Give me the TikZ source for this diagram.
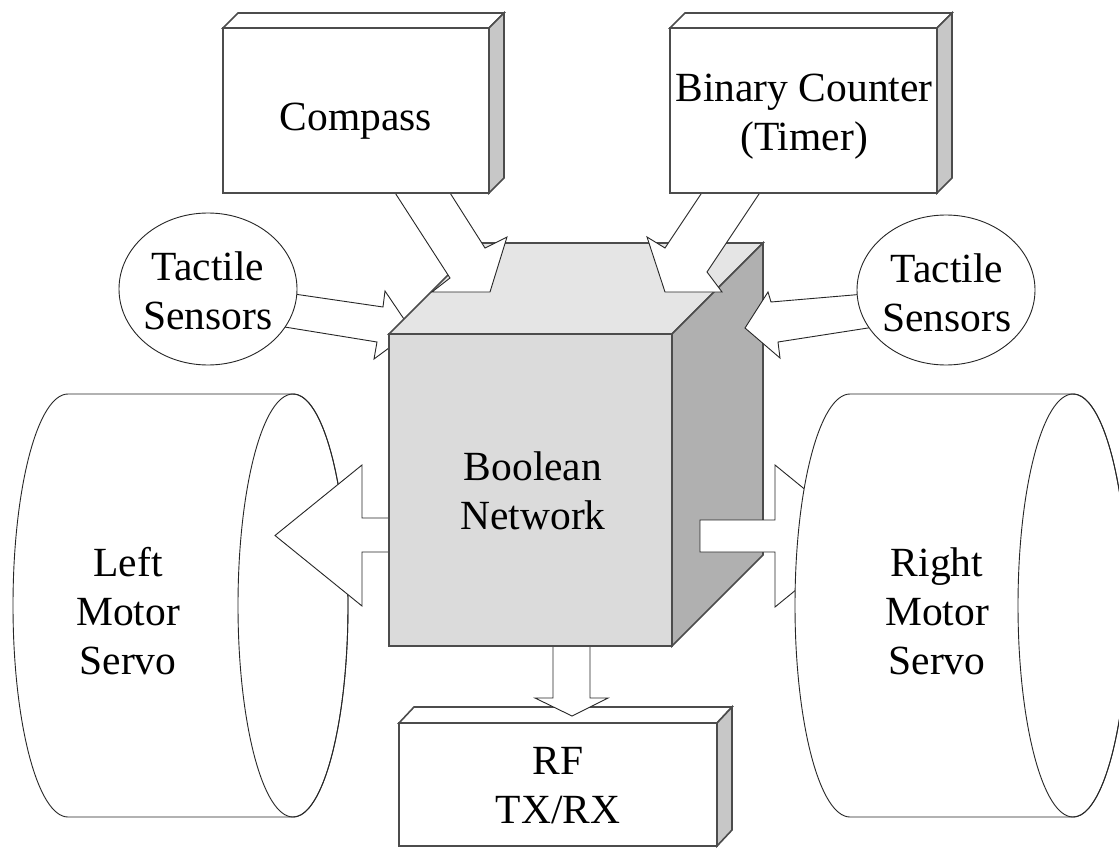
\documentclass[tikz,border=0pt]{standalone}
\usepackage{fontspec}
\setmainfont{Liberation Serif}
\begin{document}
\begin{tikzpicture}[x=1pt,y=-1pt,
  edge/.style={draw=black!70,line width=1.6pt,line join=miter},
  thin/.style={draw=black!85,line width=0.9pt,line join=miter},
  blockarrow/.style={thin,fill=white},
  lbl/.style={font=\fontsize{41.5}{49}\selectfont,align=center,inner sep=0pt},
  frontbox/.style={edge,fill=white},
  sidebox/.style={edge,fill=black!22},
]
\useasboundingbox (0,0) rectangle (1119,848);
\clip (0,0) rectangle (1119,848);
\fill[white] (0,0) rectangle (1119,848);

% ---------- Left motor cylinder ----------
\draw[thin,fill=white] (68,394) -- (293,394) arc[start angle=-90,end angle=90,x radius=55,y radius=211.5]
   -- (68,817) arc[start angle=90,end angle=270,x radius=55,y radius=211.5] -- cycle;
\draw[thin] (293,605.5) ellipse[x radius=55,y radius=211.5];
\node[lbl] (leftmotor) at (128,611) {Left\\Motor\\Servo};

% ---------- Left tactile arrow and ellipse ----------
\draw[blockarrow] (260,289) -- (383,307) -- (385,291) -- (412,331) -- (374,359) -- (377,342) -- (260,323) -- cycle;
\draw[thin,fill=white] (208,289) ellipse[x radius=89,y radius=76];
\node[lbl] (tactL) at (208,291) {Tactile\\Sensors};

% ---------- Left motor arrow ----------
\draw[blockarrow] (395,518) -- (362,518) -- (362,465) -- (275,535.5) -- (362,606) -- (362,552) -- (395,552) -- cycle;

% ---------- RF box and down arrow ----------
\draw[frontbox] (399,723) -- (414,707) -- (732,707) -- (717,723) -- cycle;
\draw[sidebox] (717,723) -- (732,707) -- (732,830) -- (717,846) -- cycle;
\draw[frontbox] (399,723) rectangle (717,846);
\node[lbl] (rf) at (558,786) {RF\\TX/RX};
\draw[blockarrow] (553,640) -- (553,698) -- (535,698) -- (572,716) -- (608,698) -- (590,698) -- (590,640) -- cycle;

% ---------- Cube ----------
\draw[edge,fill=black!10] (389,334) -- (480,243) -- (763,243) -- (672,334) -- cycle;
\draw[edge,fill=black!31] (672,334) -- (763,243) -- (763,555) -- (672,646) -- cycle;
\draw[edge,fill=black!14] (389,334) rectangle (672,646);
\node[lbl] (bool) at (533,491) {Boolean\\Network};

% ---------- Right motor arrow and cylinder ----------
\draw[blockarrow] (700,520) -- (775,520) -- (775,465) -- (862,536) -- (775,607) -- (775,552) -- (700,552) -- cycle;
\draw[thin,fill=white] (850,394) -- (1073,394) arc[start angle=-90,end angle=90,x radius=55,y radius=211.5]
   -- (850,817) arc[start angle=90,end angle=270,x radius=55,y radius=211.5] -- cycle;
\draw[thin] (1073,605.5) ellipse[x radius=55,y radius=211.5];
\node[lbl] (rightmotor) at (937,611) {Right\\Motor\\Servo};

% ---------- Right tactile arrow and ellipse ----------
\draw[blockarrow] (900,291) -- (771,302) -- (768,292) -- (745,328) -- (780,358) -- (778,342) -- (900,323) -- cycle;
\draw[thin,fill=white] (946,290) ellipse[x radius=89,y radius=75];
\node[lbl] (tactR) at (947,293) {Tactile\\Sensors};

% ---------- Compass arrow and box ----------
\draw[blockarrow] (390,185) -- (450,278) -- (432,292) -- (490,292) -- (507,237) -- (485,248) -- (445,185) -- cycle;
\draw[frontbox] (223,28) -- (238,13) -- (504,13) -- (489,28) -- cycle;
\draw[sidebox] (489,28) -- (504,13) -- (504,178) -- (489,193) -- cycle;
\draw[frontbox] (223,28) rectangle (489,193);
\node[lbl] (compass) at (356,121) {Compass};

% ---------- Timer arrow and box ----------
\draw[blockarrow] (707,185) -- (665,248) -- (647,237) -- (665,292) -- (722,292) -- (707,272) -- (765,185) -- cycle;
\draw[frontbox] (670,28) -- (685,13) -- (952,13) -- (937,28) -- cycle;
\draw[sidebox] (937,28) -- (952,13) -- (952,178) -- (937,193) -- cycle;
\draw[frontbox] (670,28) rectangle (937,193);
\node[lbl] (timer) at (804,117) {Binary Counter\\(Timer)};
\end{tikzpicture}
\end{document}
